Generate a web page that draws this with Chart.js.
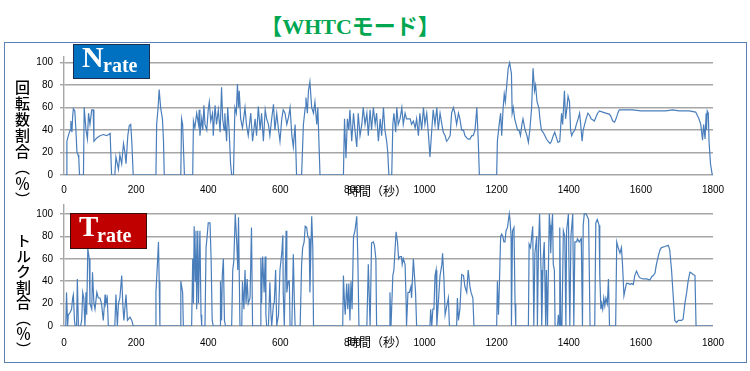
<!DOCTYPE html>
<html>
<head>
<meta charset="utf-8">
<script src="https://cdn.jsdelivr.net/npm/chart.js@4.4.1/dist/chart.umd.min.js"></script>
<style>
  body { margin: 0; width: 750px; height: 371px; background: #fff; position: relative; overflow: hidden; font-family: "Liberation Sans", "Noto Sans CJK JP", sans-serif; }
  .frame { position: absolute; left: 4px; top: 42px; width: 743px; height: 321px; border: 1.5px solid #5b80b5; box-sizing: border-box; }
  .title { position: absolute; left: 0; top: 8px; width: 700px; text-align: center; font: bold 22px "Liberation Serif", "Noto Sans CJK JP", serif; color: #00a650; }
  .wrap { position: absolute; left: 0; }
  .tag { position: absolute; width: 77px; box-sizing: border-box; border: 1px solid #1b2f4f; color: #fff; font-family: "Liberation Serif", serif; font-weight: bold; line-height: 1; }
  .tag .big { position: absolute; left: 8px; }
  .tag .sub { position: absolute; left: 28px; font-size: 20px; }
  .ytitle { position: absolute; writing-mode: vertical-rl; font: 500 15px "Noto Sans CJK JP", sans-serif; color: #000; }
  .xtitle { position: absolute; left: 347px; font: 12px "Noto Sans CJK JP", sans-serif; color: #000; line-height: 14px; }
</style>
</head>
<body>
<div class="frame"></div>
<div class="title">【WHTCモード】</div>

<div class="wrap" style="top:44px"><canvas id="nChart" width="750" height="156"></canvas></div>
<div class="wrap" style="top:192px"><canvas id="tChart" width="750" height="160"></canvas></div>

<div class="tag" style="left:73px;top:44px;height:35px;background:#0070c0;">
  <span class="big" style="top:-3px;font-size:30px;">N</span><span class="sub" style="top:10px;left:29px;">rate</span>
</div>
<div class="tag" style="left:70px;top:213px;height:36px;background:#c00000;border-color:#3a0a0a;">
  <span class="big" style="top:-2px;font-size:29px;">T</span><span class="sub" style="top:11px;left:26px;">rate</span>
</div>

<div class="ytitle" style="left:12px;top:80px;letter-spacing:1px;">回転数割合（％）</div>
<div class="ytitle" style="left:13px;top:233px;letter-spacing:0.5px;">トルク割合（％）</div>
<div class="xtitle" style="top:184px">時間（秒）</div>
<div class="xtitle" style="top:335px">時間（秒）</div>

<script>
// engine speed ratio (Nrate), time in s
const nTime = [
  0, 7, 8, 12, 17, 19, 22, 24, 26, 30, 33, 36, 39, 41, 43, 54, 56, 61, 65, 68, 72, 77, 81, 83, 91, 100, 109, 118, 124, 128, 132,
  141, 144, 148, 151, 155, 160, 165, 169, 172, 177, 181, 185, 188, 192, 255, 257, 261, 264, 268, 273, 276, 278, 324, 326, 329, 334,
  357, 359, 363, 368, 373, 375, 377, 382, 385, 388, 391, 396, 400, 403, 407, 412, 414, 419, 423, 428, 433, 437, 440, 444, 446, 451,
  454, 458, 462, 465, 470, 474, 478, 481, 484, 486, 490, 495, 502, 506, 511, 518, 523, 530, 534, 539, 544, 548, 553, 558, 562, 567,
  571, 576, 581, 585, 590, 595, 599, 604, 608, 613, 618, 623, 627, 632, 636, 641, 645, 659, 664, 669, 671, 675, 678, 682, 687, 692,
  696, 701, 704, 707, 710, 775, 778, 782, 786, 790, 793, 798, 803, 807, 812, 816, 821, 826, 830, 835, 840, 844, 849, 853, 858, 863,
  867, 872, 877, 881, 886, 890, 895, 898, 901, 909, 912, 915, 920, 923, 927, 932, 937, 941, 946, 950, 960, 964, 969, 974, 978, 983,
  987, 992, 997, 1001, 1006, 1011, 1015, 1020, 1024, 1029, 1034, 1038, 1043, 1048, 1052, 1057, 1061, 1066, 1071, 1075, 1080, 1084,
  1089, 1094, 1098, 1103, 1108, 1112, 1117, 1121, 1126, 1131, 1135, 1140, 1145, 1149, 1152, 1200, 1202, 1207, 1211, 1214, 1218,
  1221, 1224, 1228, 1232, 1236, 1241, 1243, 1246, 1250, 1254, 1258, 1262, 1266, 1270, 1273, 1279, 1284, 1288, 1292, 1297, 1301,
  1305, 1308, 1312, 1317, 1320, 1324, 1329, 1334, 1338, 1343, 1348, 1352, 1357, 1361, 1366, 1370, 1375, 1380, 1383, 1388, 1391,
  1395, 1398, 1402, 1405, 1408, 1412, 1417, 1421, 1426, 1430, 1433, 1437, 1440, 1444, 1448, 1453, 1458, 1462, 1467, 1471, 1476,
  1480, 1485, 1494, 1503, 1513, 1517, 1522, 1527, 1531, 1536, 1540, 1577, 1600, 1623, 1651, 1669, 1688, 1706, 1734, 1752, 1761,
  1766, 1771, 1774, 1778, 1781, 1782, 1784, 1787, 1789, 1793, 1798, 1800
];
const nValue = [
  0, 0, 30, 35, 40, 48, 38, 52, 59, 57, 40, 20, 18, 15, 0, 0, 60, 40, 32, 55, 45, 58, 58, 30, 33, 35, 36, 35, 36, 37, 0,
  0, 16, 10, 5, 18, 10, 28, 20, 10, 35, 44, 45, 30, 0, 0, 45, 60, 76, 60, 50, 30, 0, 0, 50, 45, 0,
  0, 48, 42, 55, 45, 58, 35, 50, 40, 62, 45, 40, 58, 65, 48, 55, 35, 62, 45, 58, 38, 78, 50, 40, 55, 30,
  60, 40, 10, 0, 0, 60, 55, 81, 60, 75, 50, 42, 60, 45, 35, 55, 30, 50, 35, 61, 40, 55, 30, 58, 50, 45,
  35, 50, 63, 40, 55, 40, 30, 50, 58, 55, 45, 52, 60, 35, 25, 45, 0, 0, 45, 60, 69, 55, 75, 83, 60, 55,
  65, 45, 60, 30, 0, 0, 50, 15, 50, 40, 58, 30, 55, 40, 25, 55, 35, 45, 60, 45, 55, 35, 58, 40, 60, 45,
  55, 30, 50, 35, 60, 40, 30, 20, 0, 0, 45, 55, 38, 60, 45, 50, 60, 45, 55, 50, 50, 45, 48, 42, 50, 35,
  55, 40, 60, 45, 55, 35, 16, 40, 58, 45, 60, 40, 55, 45, 38, 35, 30, 32, 35, 55, 60, 55,
  45, 55, 50, 40, 40, 35, 33, 32, 32, 35, 35, 40, 60, 30, 0, 0, 30, 45, 55, 35, 60,
  72, 65, 80, 95, 100, 90, 55, 60, 50, 45, 40, 40, 35, 45, 50, 40, 35, 29, 40, 60, 95,
  75, 80, 65, 60, 50, 40, 38, 35, 32, 30, 28, 30, 35, 38, 33, 29, 30, 55, 45, 75, 50,
  60, 70, 65, 40, 35, 38, 40, 45, 50, 55, 45, 30, 40, 45, 50, 55, 53, 50, 49, 48, 52,
  55, 57, 56, 55, 54, 52, 48, 47, 50, 55, 58, 58, 57, 57, 57, 57, 58, 57, 57, 56, 50,
  45, 31, 45, 32, 55, 40, 57, 55, 30, 10, 0, 0
];

// torque ratio (Trate), time in s
const tTime = [
  0, 5, 7, 10, 12, 17, 21, 24, 26, 29, 31, 35, 37, 40, 46, 49, 52, 55, 58, 61, 63, 66, 70, 72, 77, 79, 83, 86, 91, 95, 100, 104,
  109, 114, 116, 120, 123, 141, 144, 148, 151, 155, 160, 163, 166, 172, 176, 183, 188, 192, 253, 255, 259, 262, 264, 266,
  322, 324, 329, 331, 354, 357, 359, 361, 364, 366, 368, 371, 373, 377, 380, 382, 391, 394, 397, 400, 405, 408, 411, 414,
  433, 434, 437, 439, 442, 445, 448, 465, 468, 471, 475, 479, 482, 484, 488, 493, 495, 499, 502, 505, 508, 511, 516, 520, 523,
  544, 546, 548, 551, 555, 558, 560, 562, 567, 571, 574, 576, 581, 583, 587, 590, 595, 599, 604, 607, 608, 611, 616, 618, 622,
  625, 627, 632, 636, 639, 641, 655, 659, 662, 666, 669, 673, 676, 680, 682, 687, 690, 692, 773, 775, 778, 780, 784, 787, 790,
  793, 796, 799, 803, 807, 812, 815, 818, 840, 844, 849, 853, 858, 861, 865, 867, 902, 904, 907, 912, 915, 921, 925, 928, 932,
  936, 938, 941, 946, 949, 950, 954, 958, 962, 964, 969, 973, 975, 978, 1015, 1017, 1020, 1023, 1026, 1029, 1032, 1034, 1038,
  1043, 1048, 1050, 1054, 1057, 1060, 1066, 1069, 1089, 1091, 1094, 1098, 1103, 1108, 1112, 1117, 1121, 1126, 1129, 1134, 1137,
  1200, 1202, 1205, 1207, 1211, 1214, 1217, 1220, 1223, 1226, 1230, 1235, 1237, 1240, 1241, 1244, 1248, 1251, 1253, 1288, 1290,
  1294, 1300, 1303, 1306, 1311, 1313, 1316, 1319, 1323, 1325, 1329, 1332, 1336, 1338, 1341, 1346, 1348, 1350, 1352, 1355, 1357,
  1360, 1362, 1369, 1371, 1374, 1375, 1378, 1381, 1385, 1389, 1392, 1394, 1399, 1401, 1403, 1406, 1411, 1414, 1417, 1422, 1424,
  1429, 1434, 1435, 1438, 1440, 1443, 1448, 1451, 1455, 1459, 1472, 1475, 1479, 1484, 1486, 1489, 1491, 1494, 1497, 1500, 1503,
  1507, 1510, 1513, 1530, 1533, 1537, 1542, 1546, 1549, 1553, 1556, 1560, 1565, 1570, 1574, 1579, 1583, 1588, 1593, 1597, 1606,
  1616, 1625, 1630, 1634, 1639, 1643, 1648, 1653, 1657, 1667, 1676, 1680, 1685, 1690, 1694, 1699, 1704, 1713, 1717, 1722, 1727,
  1731, 1736, 1741, 1745, 1750, 1753, 1800
];
const tValue = [
  0, 0, 30, 0, 10, 12, 15, 25, 28, 5, 0, 0, 42, 0, 0, 5, 30, 25, 0, 30, 10, 69, 60, 20, 15, 48, 20, 15, 30, 25, 25, 20,
  5, 28, 20, 25, 0, 0, 28, 0, 20, 25, 45, 20, 5, 28, 5, 8, 5, 0, 0, 30, 55, 75, 40, 0,
  0, 40, 30, 0, 0, 60, 20, 89, 40, 85, 15, 85, 20, 85, 10, 0, 0, 70, 80, 92, 92, 60, 5, 0,
  0, 40, 5, 45, 60, 5, 0, 0, 50, 58, 100, 75, 50, 97, 0, 0, 40, 15, 50, 20, 42, 20, 25, 88, 0,
  0, 61, 20, 62, 30, 62, 10, 0, 0, 39, 10, 0, 20, 20, 50, 0, 10, 50, 65, 81, 30, 0, 85, 30, 40,
  40, 0, 0, 64, 20, 0, 0, 55, 70, 75, 89, 88, 80, 78, 30, 98, 70, 0, 0, 45, 20, 10, 38, 15, 38,
  5, 40, 15, 80, 85, 98, 60, 0, 0, 55, 0, 74, 75, 72, 60, 0, 0, 30, 0, 45, 50, 84, 75, 60, 62,
  62, 55, 60, 55, 20, 0, 30, 30, 35, 25, 60, 40, 30, 0, 0, 15, 0, 15, 15, 45, 50, 0, 20,
  45, 55, 65, 40, 10, 15, 25, 0, 0, 25, 5, 15, 46, 45, 35, 30, 50, 35, 30, 25, 0,
  0, 40, 10, 30, 80, 82, 80, 75, 75, 85, 88, 100, 95, 80, 0, 85, 88, 20, 0, 0, 73,
  70, 89, 0, 65, 80, 0, 70, 100, 50, 0, 60, 75, 0, 50, 0, 100, 90, 65, 85, 100, 55,
  50, 0, 0, 10, 0, 88, 0, 0, 85, 80, 0, 85, 100, 40, 0, 80, 100, 0, 75, 75, 78,
  75, 78, 70, 0, 90, 100, 100, 98, 95, 0, 0, 92, 95, 90, 45, 15, 20, 15, 25, 18, 25,
  20, 42, 0, 0, 75, 70, 65, 70, 55, 27, 32, 38, 38, 37, 38, 37, 45, 49, 45, 43, 42,
  42, 41, 44, 45, 47, 55, 62, 68, 70, 71, 72, 68, 50, 25, 5, 3, 5, 5, 6, 20, 30,
  40, 48, 47, 46, 45, 0, 0
];

const yTicks = [0, 20, 40, 60, 80, 100];
const lineColor = '#4a7ebb';
const gridColor = '#a6a6a6';

function makeChart(id, times, values, yMax, xHeight, labelPad) {
  return new Chart(document.getElementById(id), {
    type: 'line',
    data: {
      datasets: [{
        data: times.map((t, i) => ({ x: t, y: values[i] })),
        borderColor: lineColor,
        borderWidth: 1.2,
        pointRadius: 0,
        tension: 0,
        fill: false
      }]
    },
    options: {
      responsive: false,
      animation: false,
      layout: { padding: { left: 0, right: 37, top: 11, bottom: 0 } },
      plugins: { legend: { display: false }, tooltip: { enabled: false } },
      scales: {
        x: {
          type: 'linear',
          min: 0,
          max: 1800,
          ticks: { stepSize: 200, padding: labelPad, color: '#000', font: { family: 'Liberation Sans', size: 10 }, maxRotation: 0, autoSkip: false, callback: v => String(v) },
          grid: { display: false, drawTicks: false },
          border: { display: false },
          afterFit: s => { s.height = xHeight; }
        },
        y: {
          min: 0,
          max: yMax,
          afterBuildTicks: s => { s.ticks = yTicks.map(v => ({ value: v })); },
          ticks: { padding: 7, color: '#000', font: { family: 'Liberation Sans', size: 10 } },
          grid: { color: gridColor, lineWidth: 1.4, tickLength: 4 },
          border: { color: gridColor, width: 1.4 },
          afterFit: s => { s.width = 64; }
        }
      }
    }
  });
}

makeChart('nChart', nTime, nValue, 105, 25, 9);
makeChart('tChart', tTime, tValue, 108, 26, 11);
</script>
</body>
</html>
